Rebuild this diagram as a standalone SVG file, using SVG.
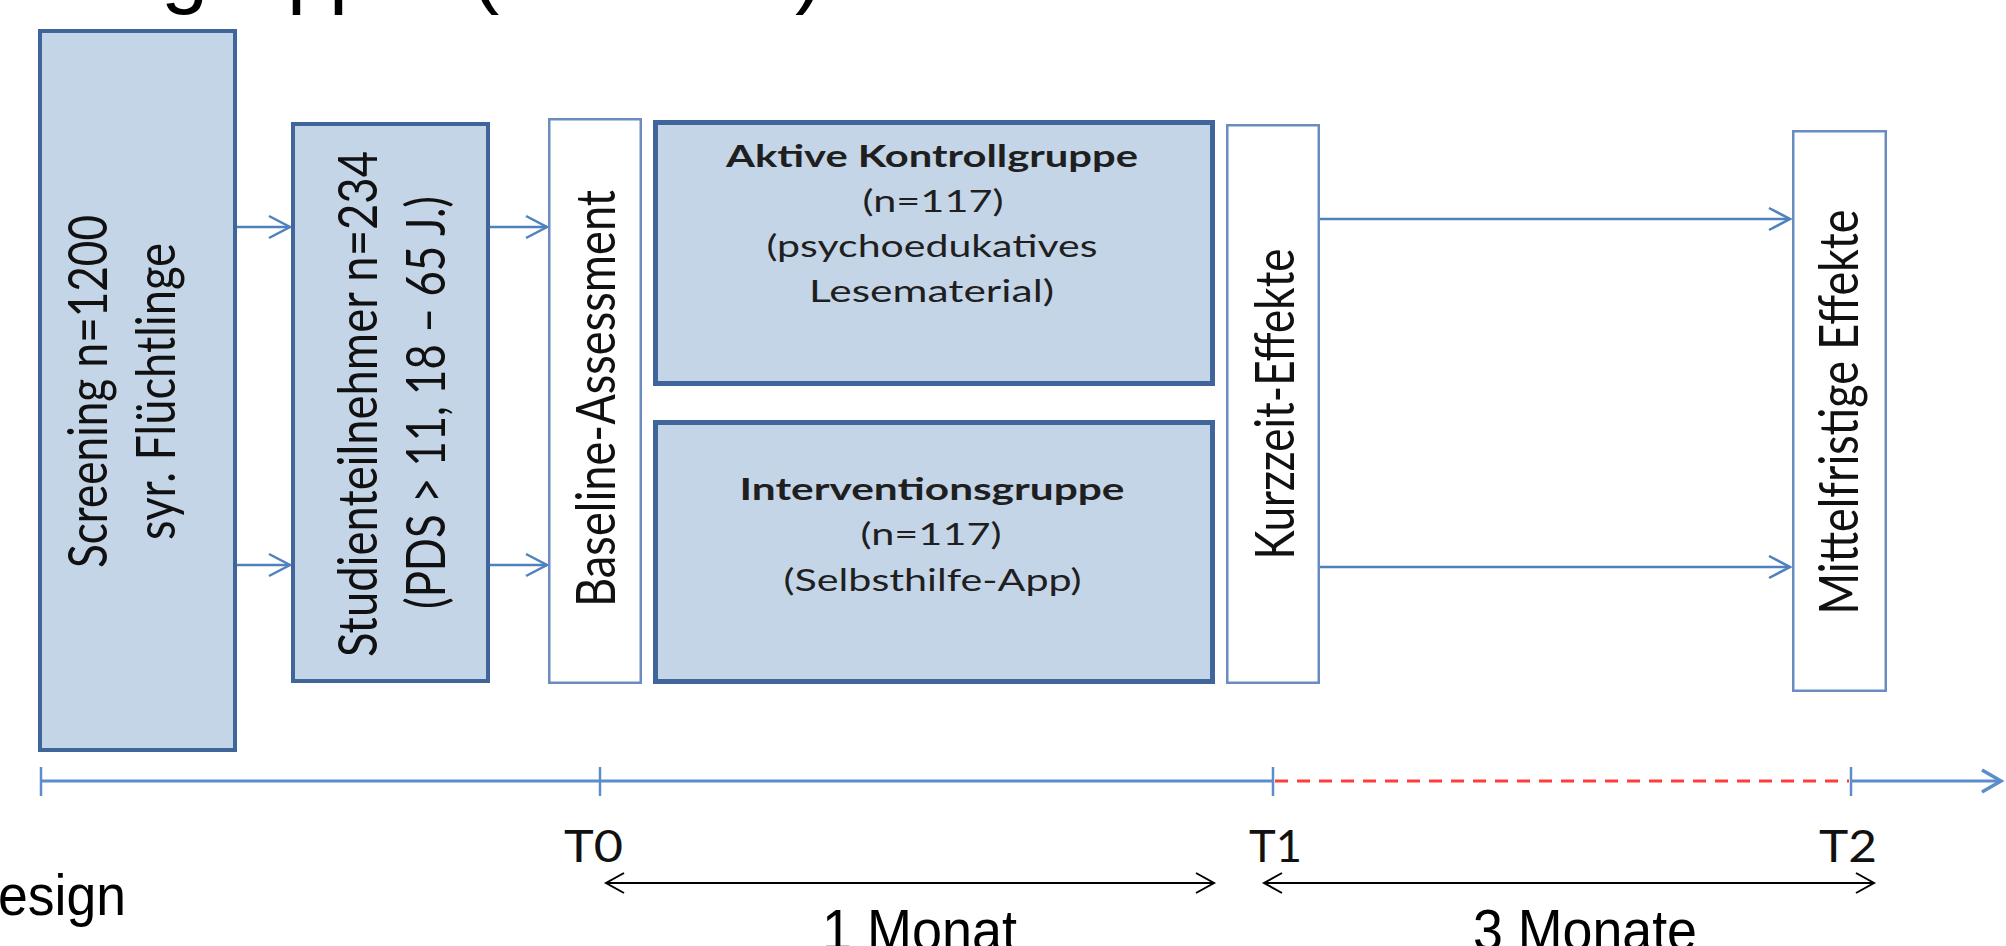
<svg xmlns="http://www.w3.org/2000/svg" width="2006" height="946" viewBox="0 0 2006 946">
<style>
.box{fill:#c5d5e8;stroke:#40659a;stroke-width:4}
.box5{fill:#c5d5e8;stroke:#40659a;stroke-width:5}
.wbox{fill:#ffffff;stroke:#6a8cc0;stroke-width:2.5}
.vt{font-family:Lato,"Open Sans","Liberation Sans",sans-serif;font-size:55px;fill:#111111;text-anchor:middle}
.ht{font-family:Lato,"Open Sans","Liberation Sans",sans-serif;font-size:31px;fill:#1f1f1f;text-anchor:middle}
.tl{font-family:Lato,"Open Sans","Liberation Sans",sans-serif;font-size:45px;fill:#111111;text-anchor:middle}
.b{font-weight:bold}
.ar{font-family:"Liberation Sans",Arial,sans-serif;fill:#000000}
.conn{stroke:#4f81bd;stroke-width:2.5;fill:none}
.axis{stroke:#5b8dcb;stroke-width:3;fill:none}
.tick{stroke:#5b8dcb;stroke-width:2.5}
.dash{stroke:#ff3b3b;stroke-width:3;stroke-dasharray:13 9;fill:none}
.span{stroke:#000000;stroke-width:2;fill:none}
</style>
<defs>
<marker id="ab" markerUnits="userSpaceOnUse" markerWidth="30" markerHeight="30" viewBox="0 0 30 30" refX="22" refY="12" orient="auto" overflow="visible">
<path d="M1,1 L22,12 L1,23" fill="none" stroke="#4f81bd" stroke-width="2.5"/>
</marker>
<marker id="at" markerUnits="userSpaceOnUse" markerWidth="30" markerHeight="30" viewBox="0 0 30 30" refX="20" refY="12" orient="auto" overflow="visible">
<path d="M1,1 L20,12 L1,23" fill="none" stroke="#5b8dcb" stroke-width="3.5"/>
</marker>
<marker id="ak" markerUnits="userSpaceOnUse" markerWidth="24" markerHeight="24" viewBox="0 0 24 24" refX="19" refY="11" orient="auto-start-reverse" overflow="visible">
<path d="M1,1 L19,11 L1,21" fill="none" stroke="#000000" stroke-width="2"/>
</marker>
</defs>
<rect width="2006" height="946" fill="#ffffff"/>

<g id="title">
<text class="ar" x="161" y="-3" font-size="85">g</text>
<text class="ar" x="287" y="-3" font-size="85">p</text>
<text class="ar" x="329" y="-3" font-size="85">p</text>
<text class="ar" x="471" y="-3" font-size="85">(</text>
<text class="ar" x="795" y="-3" font-size="85">)</text>
</g>

<g id="connectors">
<path class="conn" d="M237,227 H290" marker-end="url(#ab)"/>
<path class="conn" d="M237,565 H290" marker-end="url(#ab)"/>
<path class="conn" d="M490,227 H547" marker-end="url(#ab)"/>
<path class="conn" d="M490,565 H547" marker-end="url(#ab)"/>
<path class="conn" d="M1320,219 H1790" marker-end="url(#ab)"/>
<path class="conn" d="M1320,567 H1790" marker-end="url(#ab)"/>
</g>

<g id="screening">
<rect class="box" x="40" y="31" width="195" height="719"/>
<text class="vt" transform="translate(107,391.5) rotate(-90)" textLength="353" lengthAdjust="spacingAndGlyphs">Screening n=1200</text>
<text class="vt" transform="translate(175,391.5) rotate(-90)" textLength="297" lengthAdjust="spacingAndGlyphs">syr. Flüchtlinge</text>
</g>

<g id="studienteilnehmer">
<rect class="box" x="293" y="124" width="195" height="557"/>
<text class="vt" transform="translate(377,404) rotate(-90)" textLength="506" lengthAdjust="spacingAndGlyphs">Studienteilnehmer n=234</text>
<text class="vt" transform="translate(445,402.5) rotate(-90)" textLength="413" lengthAdjust="spacingAndGlyphs">(PDS &gt; 11, 18 – 65 J.)</text>
</g>

<g id="baseline">
<rect class="wbox" x="549.25" y="119.25" width="91.5" height="563.5"/>
<text class="vt" transform="translate(615,398.5) rotate(-90)" textLength="417" lengthAdjust="spacingAndGlyphs">Baseline-Assessment</text>
</g>

<g id="kontrollgruppe">
<rect class="box5" x="655.5" y="122.5" width="557" height="261"/>
<text class="ht b" x="932" y="167" textLength="412" lengthAdjust="spacingAndGlyphs">Aktive Kontrollgruppe</text>
<text class="ht" x="933" y="212" textLength="141" lengthAdjust="spacingAndGlyphs">(n=117)</text>
<text class="ht" x="932" y="257" textLength="331" lengthAdjust="spacingAndGlyphs">(psychoedukatives</text>
<text class="ht" x="931.5" y="302" textLength="245" lengthAdjust="spacingAndGlyphs">Lesematerial)</text>
</g>

<g id="interventionsgruppe">
<rect class="box5" x="655.5" y="422.5" width="557" height="259"/>
<text class="ht b" x="932" y="500" textLength="385" lengthAdjust="spacingAndGlyphs">Interventionsgruppe</text>
<text class="ht" x="931" y="545" textLength="141" lengthAdjust="spacingAndGlyphs">(n=117)</text>
<text class="ht" x="932.5" y="591" textLength="298" lengthAdjust="spacingAndGlyphs">(Selbsthilfe-App)</text>
</g>

<g id="kurzzeit">
<rect class="wbox" x="1227.25" y="125.25" width="91.5" height="557.5"/>
<text class="vt" transform="translate(1294,404) rotate(-90)" textLength="311" lengthAdjust="spacingAndGlyphs">Kurzzeit-Effekte</text>
</g>

<g id="mittelfristig">
<rect class="wbox" x="1793.25" y="131.25" width="92.5" height="559.5"/>
<text class="vt" transform="translate(1858,412) rotate(-90)" textLength="405" lengthAdjust="spacingAndGlyphs">Mittelfristige Effekte</text>
</g>

<g id="timeline">
<path class="axis" d="M41,781 H1273"/>
<path class="dash" d="M1275,781 H1849"/>
<path class="axis" d="M1851,781 H2001" marker-end="url(#at)"/>
<line class="tick" x1="41" y1="767" x2="41" y2="796"/>
<line class="tick" x1="600" y1="767" x2="600" y2="796"/>
<line class="tick" x1="1273" y1="767" x2="1273" y2="796"/>
<line class="tick" x1="1851" y1="767" x2="1851" y2="796"/>
<text class="tl" x="593.5" y="862" textLength="59" lengthAdjust="spacingAndGlyphs">T0</text>
<text class="tl" x="1275.5" y="862" textLength="53" lengthAdjust="spacingAndGlyphs">T1</text>
<text class="tl" x="1848" y="862" textLength="58" lengthAdjust="spacingAndGlyphs">T2</text>
</g>

<g id="spans">
<path class="span" d="M606,883 H1214" marker-start="url(#ak)" marker-end="url(#ak)"/>
<path class="span" d="M1264,883 H1874" marker-start="url(#ak)" marker-end="url(#ak)"/>
<text class="ar" x="822" y="950" font-size="58" textLength="195" lengthAdjust="spacingAndGlyphs">1 Monat</text>
<text class="ar" x="1473" y="950" font-size="58" textLength="224" lengthAdjust="spacingAndGlyphs">3 Monate</text>
</g>

<g id="caption">
<text class="ar" x="-2" y="915" font-size="58" textLength="128" lengthAdjust="spacingAndGlyphs">esign</text>
</g>
</svg>
